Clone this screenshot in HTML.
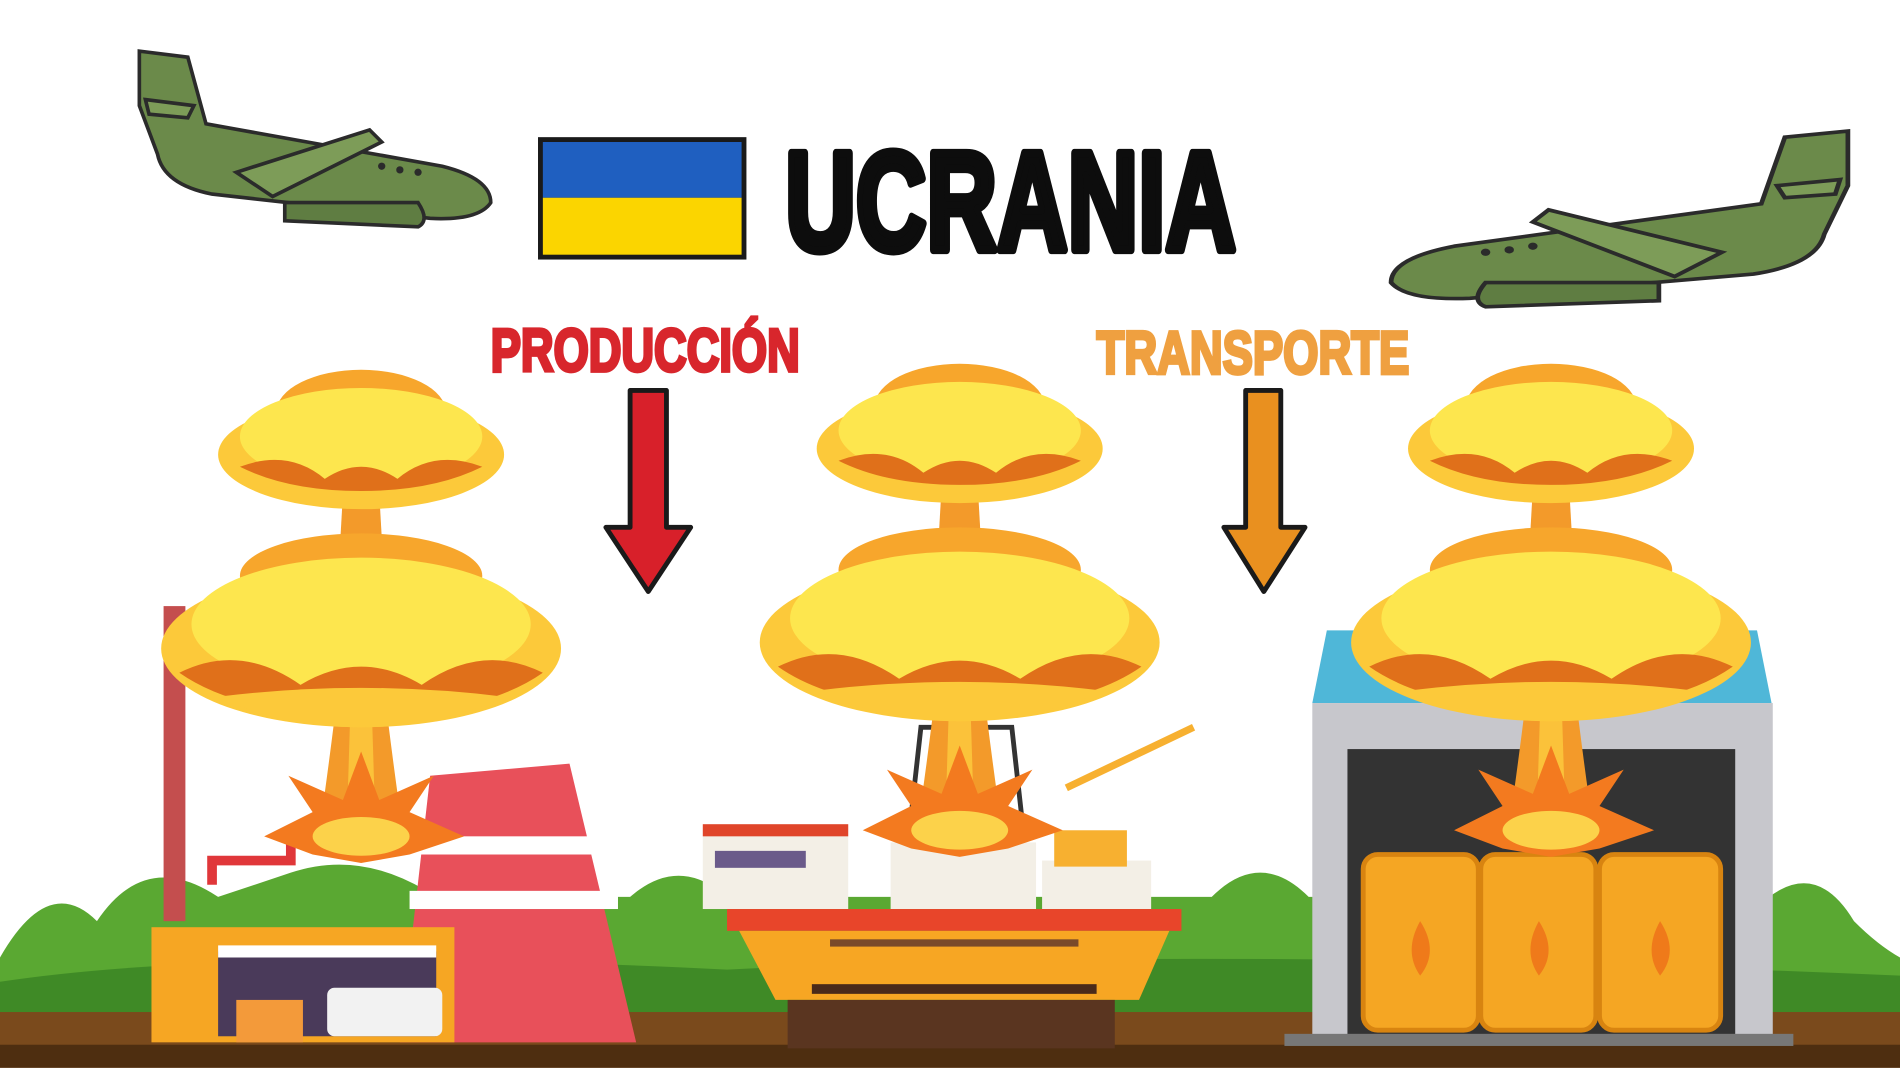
<!DOCTYPE html>
<html><head><meta charset="utf-8"><style>
html,body{margin:0;padding:0;background:#fff;width:1900px;height:1068px;overflow:hidden}
svg{display:block}
text{font-family:"Liberation Sans",sans-serif;font-weight:bold}
</style></head><body>
<svg width="1900" height="1068" viewBox="0 0 1568 881" xmlns="http://www.w3.org/2000/svg">
<defs>
<g id="cloud">
  <path d="M-18,560 Q-25,620 -35,690 L35,690 Q25,620 18,560Z" fill="#f39a2a"/>
  <path d="M-8,560 Q-10,620 -12,690 L12,690 Q10,620 8,560Z" fill="#fbc23a"/>
  <path d="M-14,390 L-18,460 L18,460 L14,390Z" fill="#f39a2a"/>
  <ellipse cx="0" cy="340" rx="70" ry="35" fill="#f7a62c"/>
  <ellipse cx="0" cy="375" rx="118" ry="45" fill="#fcc93a"/>
  <ellipse cx="0" cy="360" rx="100" ry="40" fill="#fde64e"/>
  <path d="M-100,385 Q-60,370 -30,395 Q0,375 30,395 Q60,370 100,385 Q60,405 0,405 Q-60,405 -100,385Z" fill="#e0701a"/>
  <ellipse cx="0" cy="475" rx="100" ry="35" fill="#f7a62c"/>
  <ellipse cx="0" cy="535" rx="165" ry="65" fill="#fcc93a"/>
  <ellipse cx="0" cy="515" rx="140" ry="55" fill="#fde64e"/>
  <path d="M-150,555 Q-100,530 -50,565 Q0,535 50,565 Q100,530 150,555 Q100,590 0,590 Q-100,590 -150,555Z" fill="#e0701a"/>
  <path d="M-120,575 Q0,560 120,575 Q60,600 0,600 Q-60,600 -120,575Z" fill="#fcc93a"/>
  <path d="M-80,690 L-40,670 L-60,640 L-15,660 L0,620 L15,660 L60,640 L40,670 L85,690 L40,705 L0,712 L-40,705Z" fill="#f37a1f"/>
  <ellipse cx="0" cy="690" rx="40" ry="16" fill="#fcd24a"/>
</g>
<g id="plane">
  <path d="M0,0 L40,5 L55,60 L250,95 Q290,105 290,125 Q280,140 240,138 L60,118 Q20,110 15,85 L0,45 Z" fill="#6b8a4a" stroke="#2b2b2b" stroke-width="3"/>
  <path d="M80,100 L190,65 L200,75 L110,120Z" fill="#7d9c58" stroke="#2b2b2b" stroke-width="3"/>
  <path d="M120,125 L230,125 Q240,140 230,145 L120,140Z" fill="#5f7d42" stroke="#2b2b2b" stroke-width="3"/>
  <path d="M5,40 L45,45 L40,55 L8,52Z" fill="#7d9c58" stroke="#2b2b2b" stroke-width="3"/>
  <circle cx="200" cy="95" r="3" fill="#2b2b2b"/><circle cx="215" cy="98" r="3" fill="#2b2b2b"/><circle cx="230" cy="100" r="3" fill="#2b2b2b"/>
</g>
</defs>
<rect width="1568" height="881" fill="#fff"/>

<use href="#plane" x="115" y="42"/>
<use href="#plane" transform="translate(1525,108) scale(-1.3,1)"/>

<rect x="444" y="113" width="172" height="101" fill="#1a1a1a"/>
<rect x="448" y="117" width="164" height="46" fill="#1f5fc0"/>
<rect x="448" y="163" width="164" height="47" fill="#fbd500"/>

<text x="648" y="206" font-size="116" fill="#0d0d0d" stroke="#0d0d0d" stroke-width="7" stroke-linejoin="round" textLength="372" lengthAdjust="spacingAndGlyphs">UCRANIA</text>
<text x="405" y="306" font-size="50" fill="#d8262c" stroke="#d8262c" stroke-width="3" textLength="255" lengthAdjust="spacingAndGlyphs">PRODUCCIÓN</text>
<text x="905" y="308" font-size="50" fill="#efa040" stroke="#efa040" stroke-width="3" textLength="258" lengthAdjust="spacingAndGlyphs">TRANSPORTE</text>

<path d="M520,322 L550,322 L550,435 L570,435 L535,488 L500,435 L520,435Z" fill="#d8202a" stroke="#1a1a1a" stroke-width="4" stroke-linejoin="round"/>
<path d="M1028,322 L1057,322 L1057,435 L1077,435 L1043,488 L1010,435 L1028,435Z" fill="#e9901f" stroke="#1a1a1a" stroke-width="4" stroke-linejoin="round"/>

<path d="M0,790 Q40,720 80,760 Q120,700 180,740 L240,720 Q300,700 360,740 L520,740 Q560,705 600,740 L1000,740 Q1040,700 1080,740 L1460,740 Q1500,710 1530,760 Q1550,780 1568,790 L1568,840 L0,840Z" fill="#5aa832"/>
<path d="M0,810 Q200,780 600,800 Q1000,780 1568,805 L1568,840 L0,840Z" fill="#3f8a26"/>
<rect x="0" y="835" width="1568" height="46" fill="#7a4a1c"/>
<rect x="0" y="862" width="1568" height="19" fill="#4e2e10"/>

<rect x="135" y="500" width="18" height="260" fill="#c44e4e"/>
<path d="M355,640 L470,630 L525,860 L330,860Z" fill="#e8505a"/>
<rect x="345" y="690" width="160" height="15" fill="#fff"/>
<rect x="338" y="735" width="172" height="15" fill="#fff"/>
<rect x="125" y="765" width="250" height="95" fill="#f6a623"/>
<rect x="180" y="785" width="180" height="70" fill="#4a3a5a"/>
<rect x="180" y="780" width="180" height="10" fill="#fff"/>
<rect x="270" y="815" width="95" height="40" fill="#f2f2f2" rx="6"/>
<rect x="195" y="825" width="55" height="35" fill="#f39a3a"/>
<path d="M175,730 L175,710 L240,710 L240,690 L275,690" fill="none" stroke="#e0373a" stroke-width="8"/>

<rect x="580" y="680" width="120" height="70" fill="#f3efe6"/>
<rect x="580" y="680" width="120" height="10" fill="#e0452a"/>
<rect x="590" y="702" width="75" height="14" fill="#6a5a8a"/>
<rect x="735" y="695" width="120" height="55" fill="#f3efe6"/>
<rect x="860" y="710" width="90" height="40" fill="#f3efe6"/>
<rect x="870" y="685" width="60" height="30" fill="#f7b030"/>
<path d="M880,650 L985,600" stroke="#f7b030" stroke-width="6"/>
<path d="M760,600 L835,600 L845,690 L750,690Z" fill="none" stroke="#333" stroke-width="4"/>
<rect x="600" y="750" width="375" height="18" fill="#e8452a"/>
<path d="M610,768 L965,768 L940,825 L640,825Z" fill="#f7a623"/>
<rect x="685" y="775" width="205" height="6" fill="#7a4a2a"/>
<rect x="670" y="812" width="235" height="8" fill="#4a2a1a"/>
<rect x="650" y="825" width="270" height="40" fill="#5a3520"/>

<path d="M1095,520 L1450,520 L1462,580 L1083,580Z" fill="#4fb7d8"/>
<rect x="1083" y="580" width="380" height="275" fill="#c7c7cc"/>
<rect x="1112" y="618" width="320" height="237" fill="#333"/>
<rect x="1060" y="853" width="420" height="10" fill="#777"/>
<g fill="#f5a623" stroke="#d88410" stroke-width="4">
  <rect x="1125" y="705" width="95" height="145" rx="12"/>
  <rect x="1222" y="705" width="95" height="145" rx="12"/>
  <rect x="1320" y="705" width="100" height="145" rx="12"/>
</g>
<g fill="#ef7a1a">
  <path d="M1172,760 Q1158,785 1172,805 Q1188,785 1172,760Z"/>
  <path d="M1270,760 Q1256,785 1270,805 Q1286,785 1270,760Z"/>
  <path d="M1370,760 Q1356,785 1370,805 Q1386,785 1370,760Z"/>
</g>

<use href="#cloud" x="298" y="0"/>
<use href="#cloud" x="792" y="-5"/>
<use href="#cloud" x="1280" y="-5"/>
</svg>
</body></html>
